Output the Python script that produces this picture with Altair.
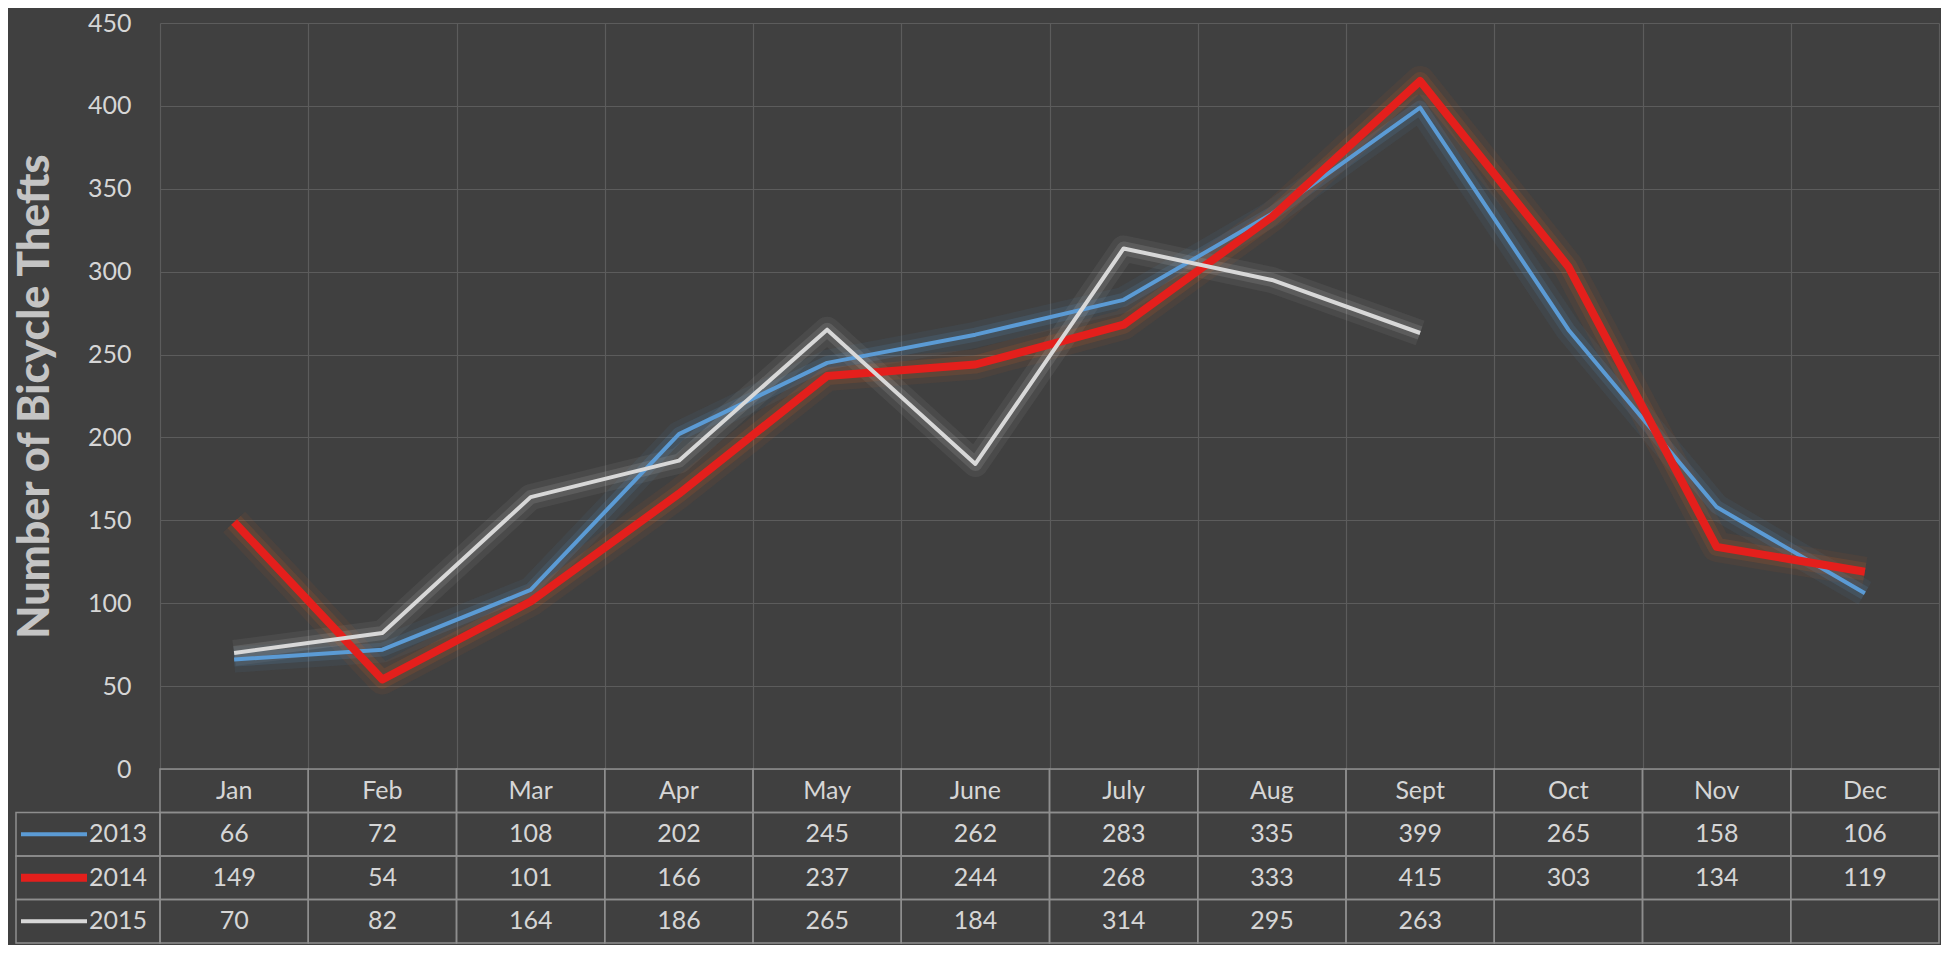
import altair as alt
import pandas as pd

# ---- data ----
months = ["Jan", "Feb", "Mar", "Apr", "May", "June", "July", "Aug", "Sept", "Oct", "Nov", "Dec"]
years = ["2013", "2014", "2015"]
v2013 = [66, 72, 108, 202, 245, 262, 283, 335, 399, 265, 158, 106]
v2014 = [149, 54, 101, 166, 237, 244, 268, 333, 415, 303, 134, 119]
v2015 = [70, 82, 164, 186, 265, 184, 314, 295, 263]
y_ticks = [0, 50, 100, 150, 200, 250, 300, 350, 400, 450]
series_values = {"2013": v2013, "2014": v2014, "2015": v2015}

# ---- styles ----
BG = "#404040"
GRID = "#5c5c5c"
BORDER = "#8e8e8e"
TEXT = "#d6d6d6"
TITLE = "#c4c4c4"
FONT = "Lato"
line_colors = {"2013": "#5b9bd5", "2014": "#e41f1c", "2015": "#d8d8d8"}
glow_colors = {"2013": "#5b9bd5", "2014": "#e0661c", "2015": "#d0d0d0"}
line_widths = {"2013": 4, "2014": 8, "2015": 4}
W = 1779
H = 746
TH = 174

line_rows = []
for yr in years:
    for m, v in zip(months, series_values[yr]):
        line_rows.append({"month": m, "year": yr, "value": v})
lines_df = pd.DataFrame(line_rows)

row_order = ["hdr"] + years
table_rows = [{"month": m, "row": "hdr", "label": m} for m in months]
for yr in years:
    for m, v in zip(months, series_values[yr]):
        table_rows.append({"month": m, "row": yr, "label": str(v)})
table_df = pd.DataFrame(table_rows)
cells_df = pd.DataFrame([{"month": m, "row": r} for r in row_order for m in months])
legend_df = pd.DataFrame({"row": years})

# ---- top line chart ----
x_top = alt.X(
    "month:N", sort=months,
    scale=alt.Scale(domain=months, paddingInner=0, paddingOuter=0),
    axis=alt.Axis(title=None, labels=False, ticks=False, tickSize=0, domain=False,
                  grid=True, gridColor=GRID, gridWidth=1.2, tickBand="extent"),
)
y_top = alt.Y(
    "value:Q",
    scale=alt.Scale(domain=[0, 450], nice=False, zero=True),
    axis=alt.Axis(values=y_ticks, title="Number of Bicycle Thefts", titleFont=FONT,
                  titleFontSize=43, titleFontWeight=900, titleColor=TITLE, titlePadding=30,
                  labelFont=FONT, labelFontSize=25, labelColor=TEXT, labelPadding=29,
                  ticks=False, tickSize=0, domain=False, grid=True, gridColor=GRID, gridWidth=1.2),
)

base = alt.Chart(lines_df).encode(x=x_top, y=y_top)
layers = []
for yr in years:
    layers.append(base.transform_filter(alt.datum.year == yr).mark_line(
        color=glow_colors[yr], strokeWidth=line_widths[yr] + 22, opacity=0.07, strokeJoin="round"))
for yr in years:
    layers.append(base.transform_filter(alt.datum.year == yr).mark_line(
        color=glow_colors[yr], strokeWidth=line_widths[yr] + 10, opacity=0.14, strokeJoin="round"))
for yr in years:
    layers.append(base.transform_filter(alt.datum.year == yr).mark_line(
        color=line_colors[yr], strokeWidth=line_widths[yr], strokeJoin="round"))

top = alt.layer(*layers).properties(width=W, height=H)

# ---- data table ----
x_tab = alt.X("month:N", sort=months,
              scale=alt.Scale(domain=months, paddingInner=0, paddingOuter=0), axis=None)
y_tab = alt.Y("row:N", sort=row_order,
              scale=alt.Scale(domain=row_order, paddingInner=0, paddingOuter=0), axis=None)

cells = alt.Chart(cells_df).mark_rect(fillOpacity=0, stroke=BORDER, strokeWidth=1.5).encode(
    x=x_tab, y=y_tab)
legend_cells = alt.Chart(legend_df).mark_rect(fillOpacity=0, stroke=BORDER, strokeWidth=1.5).encode(
    x=alt.value(-144), x2=alt.value(0), y=y_tab)
swatch_layers = []
for yr in years:
    swatch_layers.append(
        alt.Chart(legend_df).transform_filter(alt.datum.row == yr)
        .mark_rule(color=line_colors[yr], strokeWidth=line_widths[yr])
        .encode(x=alt.value(-139), x2=alt.value(-73), y=y_tab)
    )
row_labels = alt.Chart(legend_df).mark_text(
    align="right", font=FONT, fontSize=25, color=TEXT).encode(
    x=alt.value(-13), y=y_tab, text="row:N")
cell_text = alt.Chart(table_df).mark_text(font=FONT, fontSize=25, color=TEXT).encode(
    x=x_tab, y=y_tab, text="label:N")

table = alt.layer(cells, legend_cells, *swatch_layers, row_labels, cell_text).properties(width=W, height=TH)

chart = alt.vconcat(top, table, spacing=0, bounds="flush").properties(
    padding={"left": 5, "top": 2, "right": 0, "bottom": 0},
    background=BG,
).configure_view(stroke="transparent")

chart.save("out.html", embed_options={"renderer": "svg", "actions": False})
